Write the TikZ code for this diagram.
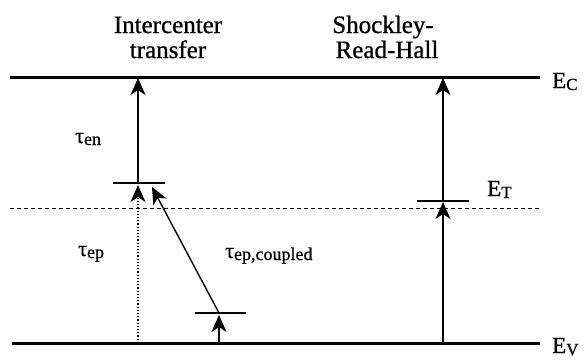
\documentclass[tikz,border=0pt]{standalone}
\usepackage{fontspec}
\setmainfont{Liberation Serif}[FakeBold=0.8]
\newfontfamily\timesf{Liberation Serif}[FakeBold=0.8]
\usetikzlibrary{arrows.meta}
\newcommand{\tauL}[1]{{\timesf\fontsize{22}{22}\selectfont τ}\raisebox{-2pt}{\timesf\fontsize{18}{18}\selectfont #1}}
\newcommand{\enL}[1]{{\timesf\fontsize{23}{23}\selectfont E}\raisebox{-2pt}{\timesf\fontsize{17}{17}\selectfont #1}}
\begin{document}
\begin{tikzpicture}[x=1pt,y=-1pt,
  band/.style={line width=3pt},
  trap/.style={line width=2.6pt},
  trans/.style={line width=1.4pt,-{Stealth[length=17pt,width=15pt,inset=5pt]}},
  dottrans/.style={line width=1.2pt,dotted,-{Stealth[length=17pt,width=15pt,inset=5pt]}},
  mid/.style={line width=0.8pt,dash pattern=on 4pt off 3pt},
  title/.style={anchor=base,inner sep=0,font=\timesf\fontsize{25}{30}\selectfont},
  lab/.style={anchor=base west,inner sep=0,font=\timesf}]
\useasboundingbox (0,0) rectangle (584,359);
% band edges
\coordinate (cL) at (10,77); \coordinate (cR) at (540,77);
\coordinate (vL) at (12,343); \coordinate (vR) at (540,343);
\coordinate (mL) at (10,208); \coordinate (mR) at (540,208);
\draw[band] (cL) -- (cR);
\draw[band] (vL) -- (vR);
\draw[mid] (mL) -- (mR);
% left trap levels
\coordinate (t1L) at (113,183); \coordinate (t1R) at (165,183);
\coordinate (t2L) at (195,313); \coordinate (t2R) at (246,313);
\draw[trap] (t1L) -- (t1R);
\draw[trap] (t2L) -- (t2R);
% right trap level
\coordinate (t3L) at (417,201); \coordinate (t3R) at (469,201);
\draw[trap] (t3L) -- (t3R);
% transition points
\coordinate (a1) at (138,183); \coordinate (a1top) at (138,78);
\coordinate (a1bot) at (138,343); \coordinate (a1tip) at (138,185);
\coordinate (d0) at (219,313); \coordinate (dtip) at (152,187);
\coordinate (l0) at (219,343); \coordinate (ltip) at (219,315);
\coordinate (r0) at (443,343); \coordinate (rtip) at (443,202);
\coordinate (r1) at (443,201); \coordinate (rtop) at (443,78);
\draw[trans] (a1) -- (a1top);
\draw[dottrans] (a1bot) -- (a1tip);
\draw[trans] (d0) -- (dtip);
\draw[trans] (l0) -- (ltip);
\draw[trans] (r0) -- (rtip);
\draw[trans] (r1) -- (rtop);
% titles
\node[title] (ti1) at (168,33) {Intercenter};
\node[title] (ti2) at (168,58) {transfer};
\node[title] (ti3) at (383,33) {Shockley-};
\node[title] (ti4) at (387,58) {Read-Hall};
% energy labels
\node[lab] (EC) at (552,88) {\enL{C}};
\node[lab] (ET) at (487,196) {\enL{T}};
\node[lab] (EV) at (552,353) {\enL{V}};
% lifetimes
\node[lab] (ten) at (75,143) {\tauL{en}};
\node[lab] (tep) at (78,256) {\tauL{ep}};
\node[lab] (tepc) at (225,258) {\tauL{ep,coupled}};
\end{tikzpicture}
\end{document}
